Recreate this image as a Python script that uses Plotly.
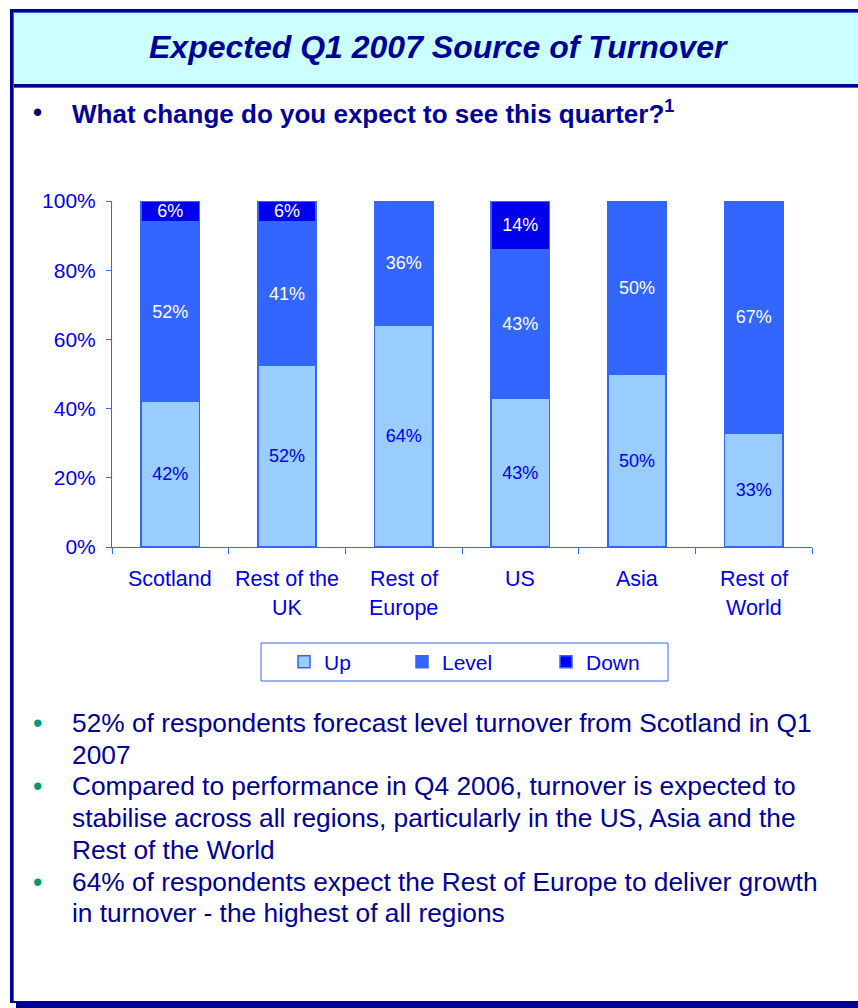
import plotly.graph_objects as go

W, H = 858, 1008

# ---------------- data ----------------
categories = ["Scotland", "Rest of the\nUK", "Rest of\nEurope", "US", "Asia", "Rest of\nWorld"]
up_values = [42, 52, 64, 43, 50, 33]
level_values = [52, 41, 36, 43, 50, 67]
down_values = [6, 6, 0, 14, 0, 0]
series_names = ["Up", "Level", "Down"]
y_ticks = [0, 20, 40, 60, 80, 100]

title_text = "Expected Q1 2007 Source of Turnover"
subtitle_text = "What change do you expect to see this quarter?<sup>1</sup>"
bullets = [
    ["52% of respondents forecast level turnover from Scotland in Q1", "2007"],
    ["Compared to performance in Q4 2006, turnover is expected to",
     "stabilise across all regions, particularly in the US, Asia and the",
     "Rest of the World"],
    ["64% of respondents expect the Rest of Europe to deliver growth",
     "in turnover - the highest of all regions"],
]

# ---------------- styles ----------------
FONT = "Arial, Liberation Sans, sans-serif"
NAVY = "#000099"
BLUE_TXT = "#0000EE"
AXIS_BLUE = "#3366FF"
C_UP, C_LEVEL, C_DOWN = "#99CCFF", "#3366FF", "#0000EE"


def px(x):
    return x / W


def py(y):
    return 1 - y / H


cat_keys = [c.replace("\n", " ") for c in categories]

fig = go.Figure()
for name, vals, col, tcol, lg in [
    (series_names[0], up_values, C_UP, BLUE_TXT, "legend"),
    (series_names[1], level_values, C_LEVEL, "white", "legend2"),
    (series_names[2], down_values, C_DOWN, "white", "legend3"),
]:
    # keep only the non-empty segments (so no empty labels are drawn)
    xs = [k for k, v in zip(cat_keys, vals) if v]
    ys = [v for v in vals if v]
    fig.add_trace(go.Bar(
        x=xs, y=ys, name=name,
        marker=dict(color=col, line=dict(color=AXIS_BLUE, width=1.5)),
        text=[f"{v}%" for v in ys],
        textposition="inside", insidetextanchor="middle", textangle=0,
        constraintext="none",
        textfont=dict(family=FONT, size=18, color=tcol),
        legend=lg, hoverinfo="skip",
    ))

fig.update_layout(
    width=W, height=H,
    margin=dict(l=0, r=0, t=0, b=0, pad=0, autoexpand=False),
    paper_bgcolor="white", plot_bgcolor="white",
    barmode="stack", barnorm="percent", bargap=0.5,
    font=dict(family=FONT, color=BLUE_TXT),
    xaxis=dict(
        domain=[px(112), px(812)], type="category",
        categoryorder="array", categoryarray=cat_keys,
        showline=True, linecolor=AXIS_BLUE, linewidth=1,
        ticks="outside", tickson="boundaries", ticklen=6, tickcolor=AXIS_BLUE,
        showticklabels=False, showgrid=False, zeroline=False, fixedrange=True,
        automargin=False,
    ),
    yaxis=dict(
        domain=[py(547), py(201)], range=[0, 100],
        tickvals=y_ticks, ticktext=[f"{t}%" for t in y_ticks],
        tickfont=dict(family=FONT, size=21, color=BLUE_TXT),
        ticklabelstandoff=6,
        showline=True, linecolor=AXIS_BLUE, linewidth=1,
        ticks="outside", ticklen=5, tickcolor=AXIS_BLUE,
        showgrid=False, zeroline=False, fixedrange=True, automargin=False,
    ),
    showlegend=True,
)

leg_common = dict(orientation="h", xanchor="left", yanchor="middle",
                  y=py(662), bgcolor="rgba(0,0,0,0)", borderwidth=0,
                  font=dict(family=FONT, size=21, color=BLUE_TXT),
                  itemclick=False, itemdoubleclick=False)
fig.update_layout(
    legend=dict(x=px(284), **leg_common),
    legend2=dict(x=px(402), **leg_common),
    legend3=dict(x=px(546), **leg_common),
)

shapes = []
# header band
shapes.append(dict(type="rect", xref="paper", yref="paper",
                   x0=px(11), x1=px(W + 5), y0=py(86), y1=py(10),
                   fillcolor="#CCFFFF", line=dict(width=0), layer="below"))
# top border, header separator
for yy in (10.5, 85.5):
    shapes.append(dict(type="line", xref="paper", yref="paper",
                       x0=px(10), x1=px(W + 5), y0=py(yy), y1=py(yy),
                       line=dict(color=NAVY, width=3)))
    shapes.append(dict(type="line", xref="paper", yref="paper",
                       x0=px(13), x1=px(W + 5), y0=py(yy + 2), y1=py(yy + 2),
                       line=dict(color="#3366CC", width=1)))
# left border
shapes.append(dict(type="line", xref="paper", yref="paper",
                   x0=px(11.5), x1=px(11.5), y0=py(1003), y1=py(9),
                   line=dict(color=NAVY, width=3)))
shapes.append(dict(type="line", xref="paper", yref="paper",
                   x0=px(13.5), x1=px(13.5), y0=py(1001), y1=py(12),
                   line=dict(color="#3366CC", width=1)))
# bottom border + shadow
shapes.append(dict(type="line", xref="paper", yref="paper",
                   x0=px(10), x1=px(W + 5), y0=py(1002), y1=py(1002),
                   line=dict(color=NAVY, width=2)))
shapes.append(dict(type="rect", xref="paper", yref="paper",
                   x0=px(16), x1=px(W + 5), y0=py(H + 2), y1=py(1003),
                   fillcolor=NAVY, line=dict(width=0)))
# legend box
shapes.append(dict(type="rect", xref="paper", yref="paper",
                   x0=px(261), x1=px(668), y0=py(681), y1=py(643),
                   line=dict(color=AXIS_BLUE, width=1), fillcolor="rgba(0,0,0,0)"))
fig.update_layout(shapes=shapes)

ann = []
# title
ann.append(dict(text=f"<b><i>{title_text}</i></b>", xref="paper", yref="paper",
                x=px(438), y=py(47), xanchor="center", yanchor="middle",
                showarrow=False, font=dict(family=FONT, size=32, color=NAVY)))
# subtitle
ann.append(dict(text="<b>•</b>", xref="paper", yref="paper", x=px(37), y=py(112),
                xanchor="center", yanchor="middle", showarrow=False,
                font=dict(family=FONT, size=26, color="#000066")))
ann.append(dict(text=f"<b>{subtitle_text}</b>", xref="paper", yref="paper",
                x=px(70), y=py(112), xanchor="left", yanchor="middle",
                showarrow=False, font=dict(family=FONT, size=26, color=NAVY)))
# category labels
for key, lab in zip(cat_keys, categories):
    for i, line in enumerate(lab.split("\n")):
        ann.append(dict(text=line, xref="x", yref="paper", x=key, y=py(579 + 29 * i),
                        xanchor="center", yanchor="middle", showarrow=False,
                        font=dict(family=FONT, size=21.5, color=BLUE_TXT)))
# bullet text
line_y = 723
for block in bullets:
    ann.append(dict(text="•", xref="paper", yref="paper", x=px(37), y=py(line_y),
                    xanchor="center", yanchor="middle", showarrow=False,
                    font=dict(family=FONT, size=27, color="#009977")))
    for line in block:
        ann.append(dict(text=line, xref="paper", yref="paper", x=px(70), y=py(line_y),
                        xanchor="left", yanchor="middle", showarrow=False,
                        font=dict(family=FONT, size=26.3, color=NAVY)))
        line_y += 31.7
fig.update_layout(annotations=ann)

fig.write_html(
    "out.html",
    config={"displayModeBar": False},
    post_script="document.body.style.margin='0';document.body.style.overflow='hidden';",
)
